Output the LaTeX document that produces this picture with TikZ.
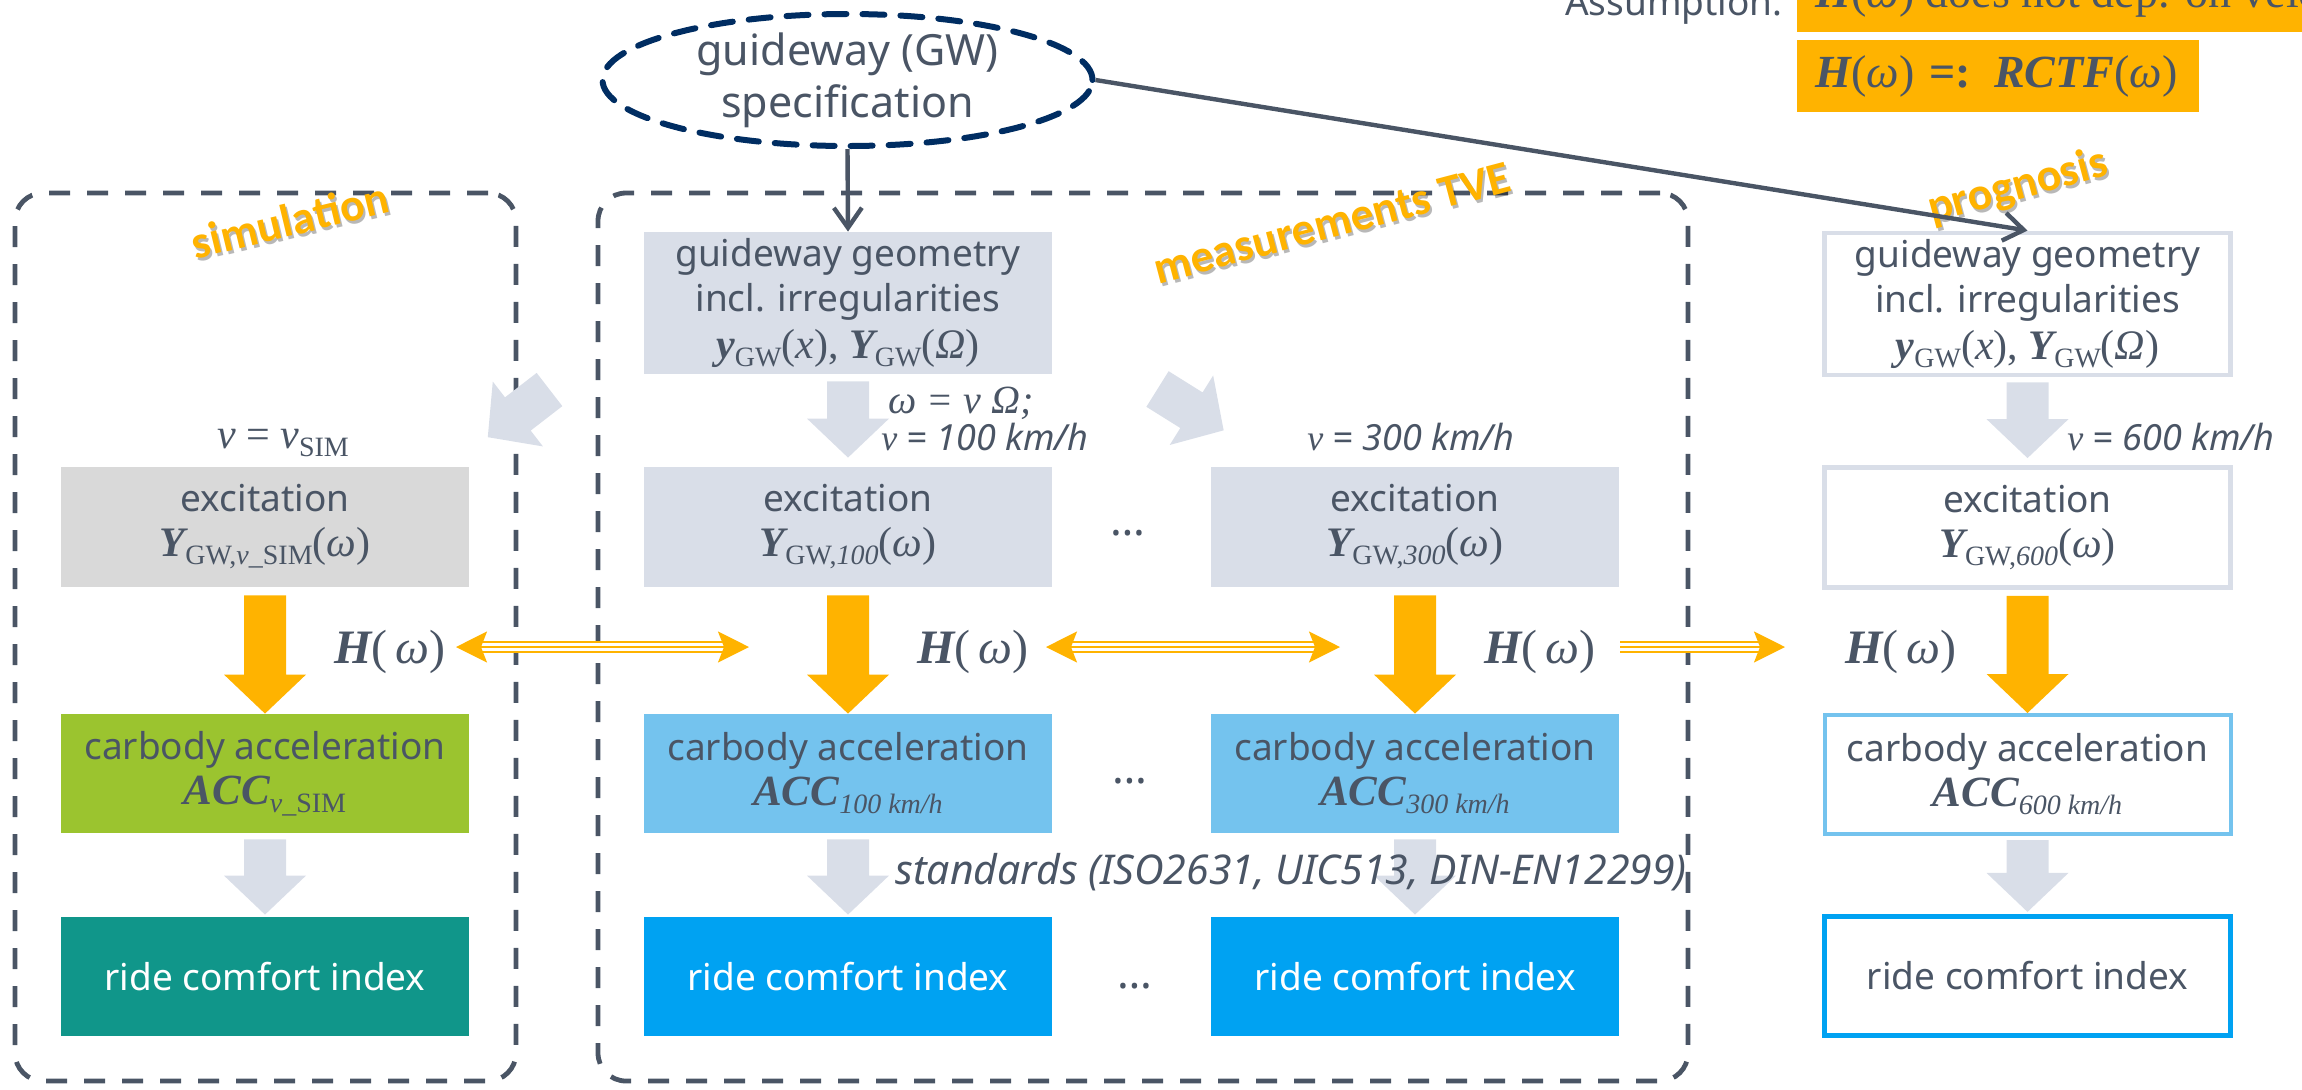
\documentclass[tikz,border=0pt]{standalone}
\usepackage{fontspec}
\setmainfont{Noto Sans}
\newfontfamily\srf{Liberation Serif}
\newfontfamily\labfont{Carlito}
\usetikzlibrary{arrows.meta,shapes.geometric,calc}
\definecolor{txt}{HTML}{4A5565}
\definecolor{org}{HTML}{FFB300}
\definecolor{lgray}{HTML}{D9D9D9}
\definecolor{lblue}{HTML}{D9DEE8}
\definecolor{grn}{HTML}{9BC42F}
\definecolor{tealc}{HTML}{10968A}
\definecolor{sky}{HTML}{74C3EE}
\definecolor{blu}{HTML}{00A2F2}
\definecolor{navy}{HTML}{002D62}
\newcommand{\bodyf}{\fontsize{18.5}{22.5}\selectfont}
\newcommand{\fm}{\fontsize{21}{22.5}\selectfont\srf}
\newcommand{\lsub}[1]{\raisebox{-4pt}{\fontsize{14}{14}\selectfont\srf #1}}
\newcommand{\YGW}[1]{{\fm\bfseries\itshape Y}\lsub{GW,#1}{\fm(\itshape ω\/\upshape)}}
\newcommand{\gwf}{{\fm\bfseries\itshape y}\lsub{GW}{\fm(\itshape x\/\upshape), }{\fm\bfseries\itshape Y}\lsub{GW}{\fm(\itshape Ω\/\upshape)}}
\newcommand{\acc}[1]{{\fontsize{21.5}{22.5}\selectfont\srf\bfseries\itshape ACC}\lsub{\itshape #1}}
\newcommand{\Hw}{{\fontsize{24}{24}\selectfont\srf{\bfseries\itshape H}(\,\itshape ω\/\upshape)}}
\newcommand{\sfit}{\itshape\fontsize{18}{18}\selectfont}
\newcommand{\asf}{\fontsize{23}{25}\selectfont\srf}
\newcommand{\blk}[5]{\fill[#1] let \p1=(#2.south), \p2=(#3.north) in
  (\x1-10.5pt,\y1-#4) -- (\x1+10.5pt,\y1-#4) -- (\x1+10.5pt,\y2+#5+19.5pt) -- (\x1+20.5pt,\y2+#5+19.5pt)
  -- (\x1,\y2+#5) -- (\x1-20.5pt,\y2+#5+19.5pt) -- (\x1-10.5pt,\y2+#5+19.5pt) -- cycle;}
\newcommand{\diagarr}[2]{\fill[lblue, shift={#1}, rotate=#2] (0,-21) -- (40,-21) -- (40,-41) -- (78,0) -- (40,41) -- (40,21) -- (0,21) -- cycle;}
\newcommand{\shlabel}[4]{\node[lbl, text=black, opacity=0.28, rotate=#3] (#1s) at ([shift={(2,3)}]#2) {#4};
  \node[lbl, rotate=#3] (#1) at (#2) {#4};}
\newcommand{\tshaft}[4]{%
  \draw[org, line width=6pt, shorten <=#3, shorten >=#4] (#1) -- (#2);
  \draw[white, line width=3.6pt, shorten <=#3, shorten >=#4] (#1) -- (#2);
  \draw[org, line width=1.2pt, shorten <=#3, shorten >=#4] (#1) -- (#2);}
\begin{document}
\begin{tikzpicture}[x=0.5pt,y=-0.5pt,
  box/.style={minimum width=204pt, inner sep=0pt, align=center, text=txt, font=\bodyf},
  gwrow/.style={box, minimum height=71pt},
  exrow/.style={box, minimum height=60pt},
  acrow/.style={box, minimum height=59.5pt},
  rcrow/.style={box, minimum height=59.5pt},
  pbox/.style={minimum width=203pt},
  frame/.style={draw=txt, line width=2.4pt, dash pattern=on 10.5pt off 8.5pt, rounded corners=14pt, inner sep=0pt},
  conn/.style={draw=txt, line width=2.2pt},
  lbl/.style={font=\labfont\bfseries\fontsize{23}{23}\selectfont, text=org, inner sep=0pt},
  note/.style={text=txt, inner sep=0pt, anchor=west},
  dots/.style={text=txt, font=\fontsize{22}{22}\selectfont, inner sep=0pt},
  hl/.style={text=txt, inner sep=0pt}
]
\useasboundingbox (0,0) rectangle (2302,1089);
\clip (0,0) rectangle (2302,1089);

% frames
\node[frame, minimum width=250.5pt, minimum height=444pt] (simF) at (265.5,637) {};
\node[frame, minimum width=545pt, minimum height=444pt] (meaF) at (1143,637) {};

% ellipse
\node[ellipse, draw=navy, line width=3pt, dash pattern=on 11pt off 8pt, line cap=round, minimum width=245pt, minimum height=66pt, inner sep=0pt] (ell) at (847.5,80) {};
\node[text=txt, align=center, inner sep=0pt, font=\fontsize{21.5}{26}\selectfont] (ellT) at (847.5,80) {guideway (GW)\\specification};

% assumption
\node[text=txt, anchor=base east, inner sep=0pt, font=\bodyf] (assum) at (1783,15) {Assumption:};
\node[fill=org, anchor=west, minimum height=36pt, inner xsep=9pt, inner ysep=0pt, text=txt, font=\asf] (as1) at (1797,-4) {{\bfseries\itshape H}(\itshape ω\/\upshape) does not dep. on velocity};
\node[fill=org, anchor=west, minimum height=36pt, text width=183pt, inner xsep=9pt, inner ysep=0pt, text=txt, font=\asf, align=left] (as2) at (1797,76) {{\bfseries\itshape H}(\itshape ω\/\upshape) {\bfseries =: \itshape RCTF}(\itshape ω\/\upshape)};

% simulation column
\node[exrow, fill=lgray] (excS) at (265,527) {excitation\\\YGW{\itshape v\upshape\_SIM}};
\node[acrow, fill=grn] (accS) at (265,773.5) {carbody acceleration\\\acc{v\upshape\_SIM}};
\node[rcrow, fill=tealc, text=white] (rideS) at (265,976.5) {ride comfort index};

% measurement column
\node[gwrow, fill=lblue] (gwM) at (848,303) {guideway geometry\\incl. irregularities\\[1pt]\gwf};
\node[exrow, fill=lblue] (excM) at (848,527) {excitation\\\YGW{\itshape 100}};
\node[exrow, fill=lblue] (excT) at (1415,527) {excitation\\\YGW{\itshape 300}};
\node[acrow, fill=sky] (accM) at (848,773.5) {carbody acceleration\\\acc{100 km/h}};
\node[acrow, fill=sky] (accT) at (1415,773.5) {carbody acceleration\\\acc{300 km/h}};
\node[rcrow, fill=blu, text=white] (rideM) at (848,976.5) {ride comfort index};
\node[rcrow, fill=blu, text=white] (rideT) at (1415,976.5) {ride comfort index};

% prognosis column
\node[gwrow, pbox, draw=lblue, line width=2.4pt] (gwP) at (2027.5,304) {guideway geometry\\incl. irregularities\\[1pt]\gwf};
\node[exrow, pbox, draw=lblue, line width=2.4pt] (excP) at (2027.5,527.5) {excitation\\\YGW{\itshape 600}};
\node[acrow, pbox, draw=sky, line width=2pt] (accP) at (2027.5,774.5) {carbody acceleration\\\acc{600 km/h}};
\node[rcrow, pbox, draw=blu, line width=2.6pt] (rideP) at (2027.5,976) {ride comfort index};

% block arrows
\blk{org}{excS}{accS}{4pt}{0pt}
\blk{org}{excM}{accM}{4pt}{0pt}
\blk{org}{excT}{accT}{4pt}{0pt}
\blk{org}{excP}{accP}{3pt}{0pt}
\blk{lblue}{accS}{rideS}{3pt}{1pt}
\blk{lblue}{accM}{rideM}{3pt}{1pt}
\blk{lblue}{accT}{rideT}{3pt}{1pt}
\blk{lblue}{accP}{rideP}{2pt}{1pt}
\blk{lblue}{gwM}{excM}{3.5pt}{4.5pt}
\blk{lblue}{gwP}{excP}{2.5pt}{3.5pt}
\diagarr{(549.5,389.5)}{217.7}
\diagarr{(1157.5,389)}{-32}

% labels
\shlabel{labS}{290,220}{13.5}{simulation}
\shlabel{labM}{1332,223}{14.8}{measurements TVE}
\shlabel{labP}{2018,187}{15}{prognosis}

% connectors
\draw[conn, -{Straight Barb[length=10pt,width=14pt]}] (ell.south) -- (gwM.north);
\draw[conn, -{Straight Barb[length=10pt,width=14pt]}] (ell.east) -- (gwP.north);

% H labels and double arrows
\node[hl] (Hsim) at (390,652) {\Hw};
\node[hl] (H100) at (973,652) {\Hw};
\node[hl] (H300) at (1540,652) {\Hw};
\node[hl] (H600) at (1901,652) {\Hw};
\coordinate (a1) at (456,647);
\coordinate (b1) at (749,647);
\coordinate (a2) at (1046,647);
\coordinate (b2) at (1340,647);
\coordinate (a3) at (1620,647);
\coordinate (b3) at (1785,647);
\tshaft{a1}{b1}{10pt}{10pt}
\tshaft{a2}{b2}{10pt}{10pt}
\tshaft{a3}{b3}{0pt}{10pt}
\draw[org, line width=1pt, {Stealth[length=15.5pt,width=15.5pt,inset=3pt]}-{Stealth[length=15.5pt,width=15.5pt,inset=3pt]}] (a1) -- (b1);
\draw[org, line width=1pt, {Stealth[length=15.5pt,width=15.5pt,inset=3pt]}-{Stealth[length=15.5pt,width=15.5pt,inset=3pt]}] (a2) -- (b2);
\draw[org, line width=1pt, -{Stealth[length=15.5pt,width=15.5pt,inset=3pt]}] (a3) -- (b3);

% notes
\node[hl, font=\srf\fontsize{21}{21}\selectfont] (vsim) at (283,443) {\itshape v \upshape= \itshape v\upshape\lsub{SIM}};
\node[note, font=\srf\itshape\fontsize{20}{20}\selectfont] (omg) at (888,403) {ω = v Ω;};
\node[note, font=\sfit] (v100) at (881,437) {{\srf v} = 100 km/h};
\node[note, font=\sfit] (v300) at (1307,437) {{\srf v} = 300 km/h};
\node[note, font=\sfit] (v600) at (2067,437) {{\srf v} = 600 km/h};
\node[note, font=\itshape\fontsize{20.5}{20.5}\selectfont] (std) at (895,872) {standards (ISO2631, UIC513, DIN-EN12299)};
\node[dots] (d1) at (1128,533) {…};
\node[dots] (d2) at (1130,781) {…};
\node[dots] (d3) at (1135,986) {…};
\end{tikzpicture}
\end{document}
